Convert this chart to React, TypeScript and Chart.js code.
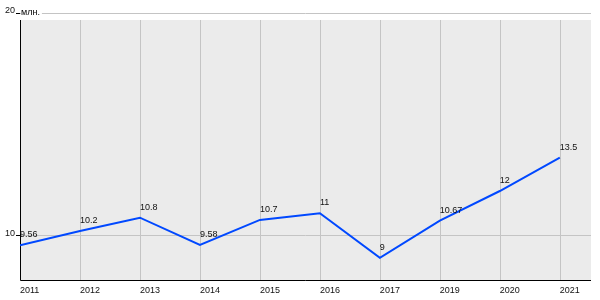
import React, { useEffect, useRef } from "react";
import { Chart, registerables } from "chart.js";

Chart.register(...registerables);

const years = ["2011", "2012", "2013", "2014", "2015", "2016", "2017", "2019", "2020", "2021"];
const values = [9.56, 10.2, 10.8, 9.58, 10.7, 11, 9, 10.67, 12, 13.5];
const yTicks = [10, 20];
const unitLabel = "млн.";

const FONT = "'Liberation Sans', Arial, sans-serif";

const decor = {
  id: "decor",
  beforeDraw(chart: any) {
    const { ctx, chartArea: a } = chart;
    ctx.save();
    ctx.fillStyle = "#ffffff";
    ctx.fillRect(0, 0, chart.width, chart.height);
    ctx.fillStyle = "#ebebeb";
    ctx.fillRect(a.left, a.top + 7, a.right - a.left, a.bottom - a.top - 7);
    ctx.restore();
  },
  beforeDatasetsDraw(chart: any) {
    const { ctx, chartArea: a, scales } = chart;
    const x = scales.x;
    ctx.save();
    ctx.strokeStyle = "#c4c4c4";
    ctx.lineWidth = 1;
    years.forEach((_, i) => {
      if (i === 0) return;
      const px = Math.round(x.getPixelForValue(i)) + 0.5;
      ctx.beginPath();
      ctx.moveTo(px, a.top + 7);
      ctx.lineTo(px, a.bottom);
      ctx.stroke();
    });
    ctx.strokeStyle = "#000000";
    ctx.beginPath();
    ctx.moveTo(a.left + 0.5, a.top + 7);
    ctx.lineTo(a.left + 0.5, a.bottom + 0.5);
    ctx.lineTo(a.right, a.bottom + 0.5);
    ctx.stroke();
    // unit label over the top grid line
    ctx.font = `9px ${FONT}`;
    ctx.textBaseline = "middle";
    ctx.textAlign = "left";
    const w = ctx.measureText(unitLabel).width;
    ctx.fillStyle = "#ffffff";
    ctx.fillRect(a.left + 1, a.top - 3, w + 2, 6);
    ctx.fillStyle = "#000000";
    ctx.fillText(unitLabel, a.left + 1, a.top);
    ctx.restore();
  },
  afterDatasetsDraw(chart: any) {
    const { ctx } = chart;
    const meta = chart.getDatasetMeta(0);
    ctx.save();
    ctx.font = `9px ${FONT}`;
    ctx.fillStyle = "#111111";
    ctx.textAlign = "left";
    ctx.textBaseline = "alphabetic";
    meta.data.forEach((el: any, i: number) => {
      ctx.fillText(String(values[i]), el.x, el.y - 8);
    });
    ctx.restore();
  },
};

export default function App() {
  const ref = useRef<HTMLCanvasElement>(null);
  useEffect(() => {
    document.body.style.margin = "0";
    const chart = new Chart(ref.current!, {
      type: "line",
      data: {
        datasets: [
          {
            data: values.map((v, i) => ({ x: i, y: v })),
            borderColor: "#0048ff",
            borderWidth: 2,
            pointRadius: 0,
            tension: 0,
            fill: false,
          },
        ],
      },
      options: {
        animation: false,
        responsive: false,
        layout: { padding: { top: 13, right: 9, left: 0, bottom: 0 } },
        plugins: { legend: { display: false }, tooltip: { enabled: false } },
        scales: {
          x: {
            type: "linear",
            min: 0,
            max: 9.52,
            grid: { display: false, drawTicks: false, tickLength: 0 },
            border: { display: false },
            afterBuildTicks: (s: any) => {
              s.ticks = years.map((_, i) => ({ value: i }));
            },
            afterFit: (s: any) => {
              s.height = 20;
            },
            ticks: {
              align: "start",
              padding: 5,
              maxRotation: 0,
              autoSkip: false,
              color: "#111111",
              font: { family: FONT, size: 9 },
              callback: (v: any) => years[v] ?? "",
            },
          },
          y: {
            min: 8,
            max: 20,
            grid: {
              color: "#c4c4c4",
              tickColor: "#000000",
              tickLength: 4,
              drawTicks: true,
            },
            border: { display: false },
            afterBuildTicks: (s: any) => {
              s.ticks = yTicks.map((v) => ({ value: v }));
            },
            afterFit: (s: any) => {
              s.width = 20;
            },
            ticks: {
              padding: 1,
              labelOffset: -2,
              color: "#111111",
              font: { family: FONT, size: 9 },
            },
          },
        },
      },
      plugins: [decor],
    });
    return () => chart.destroy();
  }, []);
  return (
    <div style={{ width: 600, height: 300 }}>
      <canvas ref={ref} width={600} height={300} />
    </div>
  );
}
